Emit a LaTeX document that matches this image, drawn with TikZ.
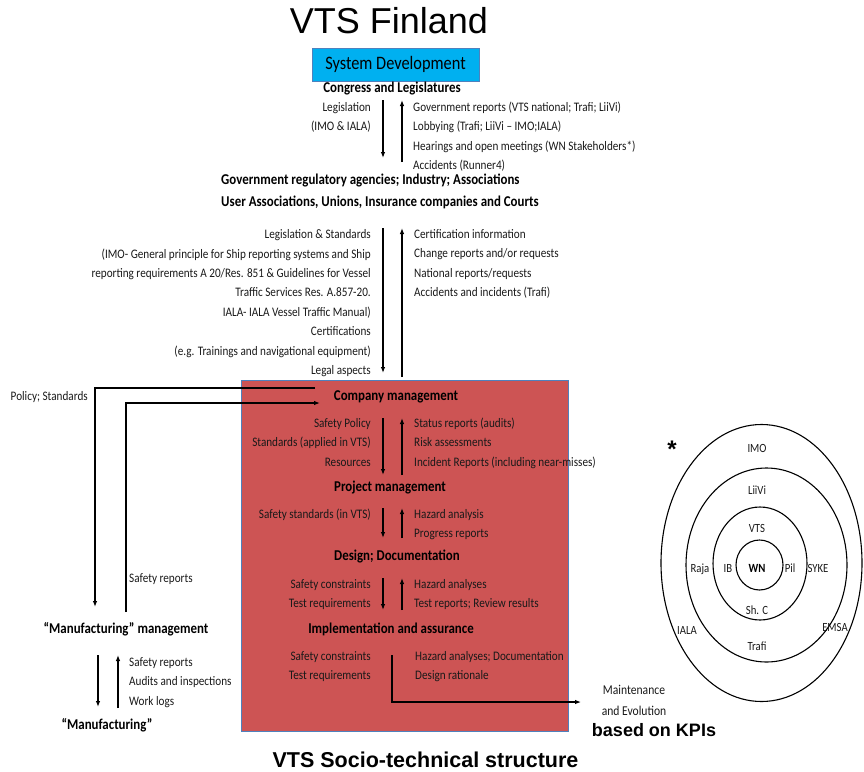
\documentclass[tikz,border=0pt]{standalone}
\usepackage{fontspec}
\setmainfont{Carlito}[FakeStretch=0.86]
\newfontfamily\arialfont{Liberation Sans}
\usetikzlibrary{arrows.meta, positioning}
\definecolor{sysblue}{RGB}{0,176,240}
\definecolor{boxred}{RGB}{205,84,84}
\definecolor{boxedge}{RGB}{79,129,189}

\begin{document}
\begin{tikzpicture}[
    x=1pt, y=-1pt,
    >={Latex[length=6pt, width=4.5pt]},
    txt/.style={inner sep=0pt, text=black!90, font=\fontsize{13}{19.4}\selectfont},
    lft/.style={txt, anchor=base east, align=right},
    rgt/.style={txt, anchor=base west, align=left},
    hdr/.style={inner sep=0pt, anchor=base, font=\bfseries\fontsize{15}{18}\selectfont},
    flow/.style={->, line width=1.1pt},
    ring/.style={line width=1.1pt},
    ringlbl/.style={inner sep=0pt, anchor=base, text=black!90, font=\fontsize{12.5}{15}\selectfont}
]
\useasboundingbox (0,0) rectangle (864,771);

% TITLE
\node[inner sep=0pt, anchor=base, font=\arialfont\fontsize{36}{40}\selectfont] (title) at (389,33) {VTS Finland};
\node[draw=boxedge, fill=sysblue, minimum width=167pt, minimum height=33pt, inner sep=0pt, font=\fontsize{19}{22}\selectfont] (sysdev) at (395.5,64.5) {System Development};

% CONGRESS LEVEL (multi-line texts: base = last line)
\node[hdr] (congress) at (392,92.5) {Congress and Legislatures};
\node[lft] (leg) at (371,130.9) {Legislation\\(IMO \& IALA)};
\node[rgt] (govrep) at (413,169.7) {Government reports (VTS national; Trafi; LiiVi)\\Lobbying (Trafi; LiiVi – IMO;IALA)\\Hearings and open meetings (WN Stakeholders*)\\Accidents (Runner4)};
\coordinate (leg_s) at (383,100);
\coordinate (leg_e) at (383,158);
\coordinate (rep_s) at (402,162);
\coordinate (rep_e) at (402,100);
\draw[flow] (leg_s) -- (leg_e);
\draw[flow] (rep_s) -- (rep_e);

% AGENCIES LEVEL
\node[hdr, anchor=base west] (agencies) at (221,184.5) {Government regulatory agencies; Industry; Associations};
\node[hdr, anchor=base west] (unions) at (221,206.5) {User Associations, Unions, Insurance companies and Courts};
\node[lft] (standards) at (371,374.5) {Legislation \& Standards\\(IMO- General principle for Ship reporting systems and Ship\\reporting requirements A 20/Res. 851 \& Guidelines for Vessel\\Traffic Services Res. A.857-20.\\IALA- IALA Vessel Traffic Manual)\\Certifications\\(e.g. Trainings and navigational equipment)\\Legal aspects};
\node[rgt] (certinfo) at (414,296.7) {Certification information\\Change reports and/or requests\\National reports/requests\\Accidents and incidents (Trafi)};
\coordinate (std_s) at (383,228);
\coordinate (std_e) at (383,373);
\coordinate (cert_s) at (402,377);
\coordinate (cert_e) at (402,228);
\draw[flow] (std_s) -- (std_e);
\draw[flow] (cert_s) -- (cert_e);

% COMPANY BOX
\node[draw=boxedge, fill=boxred, line width=0.6pt, minimum width=327pt, minimum height=351pt, inner sep=0pt] (company_box) at (404.5,555.5) {};

\node[hdr] (cmgmt) at (396,400.5) {Company management};
\node[lft] (policy) at (371,466.3) {Safety Policy\\Standards (applied in VTS)\\Resources};
\node[rgt] (status) at (414,466.3) {Status reports (audits)\\Risk assessments\\Incident Reports (including near-misses)};
\coordinate (pol_s) at (383,418);
\coordinate (pol_e) at (383,475);
\coordinate (stat_s) at (402,475);
\coordinate (stat_e) at (402,418);
\draw[flow] (pol_s) -- (pol_e);
\draw[flow] (stat_s) -- (stat_e);

\node[hdr] (pmgmt) at (390,491.5) {Project management};
\node[lft] (safestd) at (371,518.5) {Safety standards (in VTS)};
\node[rgt] (hazard) at (414,537.9) {Hazard analysis\\Progress reports};
\coordinate (sstd_s) at (383,508);
\coordinate (sstd_e) at (383,538);
\coordinate (haz_s) at (402,538);
\coordinate (haz_e) at (402,508);
\draw[flow] (sstd_s) -- (sstd_e);
\draw[flow] (haz_s) -- (haz_e);

\node[hdr] (design) at (397,560.5) {Design; Documentation};
\node[lft] (constr) at (371,607.9) {Safety constraints\\Test requirements};
\node[rgt] (testrep) at (414,607.9) {Hazard analyses\\Test reports; Review results};
\coordinate (con_s) at (383,578);
\coordinate (con_e) at (383,610);
\coordinate (trep_s) at (402,610);
\coordinate (trep_e) at (402,578);
\draw[flow] (con_s) -- (con_e);
\draw[flow] (trep_s) -- (trep_e);

\node[hdr] (impl) at (391,633.5) {Implementation and assurance};
\node[lft] (constr2) at (371,679.9) {Safety constraints\\Test requirements};
\node[rgt] (docs) at (415,679.4) {Hazard analyses; Documentation\\Design rationale};

% MAINTENANCE
\node[txt, anchor=base, align=center, font=\fontsize{13.5}{21}\selectfont] (maint) at (634,715.5) {Maintenance\\and Evolution};
\node[inner sep=0pt, anchor=base, font=\arialfont\bfseries\fontsize{18}{20}\selectfont] (kpi) at (654,736) {based on KPIs};
\coordinate (mnt_s) at (392,655);
\coordinate (mnt_e) at (581,702);
\draw[flow] (mnt_s) |- (mnt_e);

% MANUFACTURING
\node[lft] (polstd) at (88,400.5) {Policy; Standards};
\node[hdr] (mfgmgmt) at (126,633.5) {“Manufacturing” management};
\node[rgt] (safrep) at (129,582.5) {Safety reports};
\coordinate (ps_s) at (315,388);
\coordinate (ps_e) at (95,607);
\coordinate (sr_s) at (126,612);
\coordinate (sr_e) at (320,403);
\draw[flow] (ps_s) -| (ps_e);
\draw[flow] (sr_s) |- (sr_e);

\node[hdr] (mfg) at (107,729.5) {“Manufacturing”};
\node[rgt] (audits) at (129,705.3) {Safety reports\\Audits and inspections\\Work logs};
\coordinate (mfg_s) at (98,655);
\coordinate (mfg_e) at (98,707);
\coordinate (aud_s) at (118,708);
\coordinate (aud_e) at (118,655);
\draw[flow] (mfg_s) -- (mfg_e);
\draw[flow] (aud_s) -- (aud_e);

% STAKEHOLDER RINGS
\draw[ring] (761.5,563) ellipse [x radius=100.5, y radius=138.5];
\draw[ring] (766.5,565) ellipse [x radius=80.5, y radius=97];
\draw[ring] (760,563.5) ellipse [x radius=47, y radius=56.5];
\draw[ring] (759.5,565) ellipse [x radius=23.5, y radius=25];
\node[inner sep=0pt, font=\arialfont\bfseries\fontsize{24}{26}\selectfont] (star) at (672,449) {*};
\node[ringlbl] (imo) at (757,452) {IMO};
\node[ringlbl] (liivi) at (757,494) {LiiVi};
\node[ringlbl] (vts) at (757,532) {VTS};
\node[ringlbl] (raja) at (700,572) {Raja};
\node[ringlbl] (ib) at (728,572) {IB};
\node[ringlbl, font=\bfseries\fontsize{12.5}{15}\selectfont, text=black] (wn) at (757,572) {WN};
\node[ringlbl] (pil) at (790,572) {Pil};
\node[ringlbl] (syke) at (818,572) {SYKE};
\node[ringlbl] (shc) at (757,614) {Sh. C};
\node[ringlbl] (iala) at (687,634) {IALA};
\node[ringlbl] (emsa) at (835,631) {EMSA};
\node[ringlbl] (trafi) at (757,650) {Trafi};

% CAPTION
\node[inner sep=0pt, anchor=base, font=\arialfont\bfseries\fontsize{21.5}{24}\selectfont] (caption) at (425.5,767) {VTS Socio-technical structure};

\end{tikzpicture}
\end{document}
